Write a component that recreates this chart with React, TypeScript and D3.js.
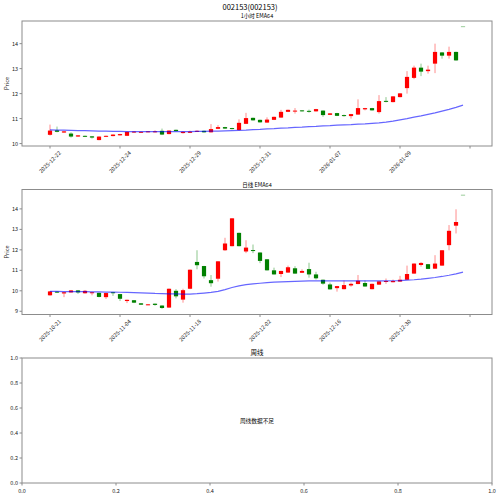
import React from 'react';
import * as d3 from 'd3';

const figureTitle = '002153(002153)';
const hourlyTitle = '1小时 EMA64';
const dailyTitle = '日线 EMA64';
const weeklyTitle = '周线';
const weeklyMessage = '周线数据不足';

// 1 hour candles
const hourlyDates = ['2025-12-22', '2025-12-24', '2025-12-29', '2025-12-31', '2026-01-07', '2026-01-09', ''];
const hourlyOpen = [10.35, 10.53, 10.44, 10.40, 10.28, 10.31, 10.29, 10.14, 10.27, 10.30, 10.33, 10.31, 10.44, 10.44, 10.46, 10.46, 10.51, 10.38, 10.55, 10.42,
  10.43, 10.47, 10.51, 10.45, 10.59, 10.66, 10.62, 10.54, 10.79, 11.03, 10.95, 10.84, 10.95, 11.04, 11.27, 11.28, 11.33, 11.31, 11.29, 11.32,
  11.15, 11.22, 11.14, 11.10, 11.16, 11.37, 11.42, 11.26, 11.71, 11.66, 11.86, 12.22, 12.63, 13.04, 12.90, 13.20, 13.65, 13.52, 13.67, 14.68];
const hourlyClose = [10.52, 10.47, 10.49, 10.28, 10.33, 10.27, 10.24, 10.28, 10.31, 10.36, 10.38, 10.47, 10.48, 10.47, 10.49, 10.49, 10.36, 10.52, 10.50, 10.47,
  10.48, 10.51, 10.45, 10.58, 10.66, 10.60, 10.58, 10.83, 11.02, 10.93, 10.85, 10.96, 11.07, 11.27, 11.35, 11.32, 11.29, 11.29, 11.38, 11.14,
  11.21, 11.11, 11.11, 11.18, 11.42, 11.42, 11.33, 11.70, 11.67, 11.89, 12.01, 12.67, 13.04, 12.88, 12.96, 13.67, 13.52, 13.67, 13.33, 14.68];
const hourlyHigh = [10.76, 10.68, 10.50, 10.45, 10.34, 10.32, 10.30, 10.29, 10.32, 10.37, 10.39, 10.48, 10.49, 10.48, 10.50, 10.53, 10.60, 10.53, 10.56, 10.49,
  10.52, 10.53, 10.52, 10.78, 10.74, 10.67, 10.63, 10.97, 11.23, 11.04, 10.96, 11.05, 11.08, 11.35, 11.36, 11.42, 11.34, 11.36, 11.39, 11.33,
  11.22, 11.23, 11.16, 11.19, 11.77, 11.43, 11.43, 11.94, 11.86, 11.90, 12.02, 12.90, 13.12, 13.20, 13.12, 14.00, 13.66, 13.88, 13.68, 14.68];
const hourlyLow = [10.32, 10.45, 10.43, 10.24, 10.27, 10.26, 10.20, 10.13, 10.26, 10.29, 10.32, 10.30, 10.43, 10.43, 10.45, 10.44, 10.34, 10.37, 10.49, 10.40,
  10.42, 10.46, 10.44, 10.44, 10.58, 10.59, 10.57, 10.52, 10.78, 10.92, 10.84, 10.83, 10.94, 11.03, 11.26, 11.20, 11.28, 11.24, 11.28, 11.07,
  11.14, 11.10, 11.08, 11.00, 11.15, 11.33, 11.32, 11.20, 11.65, 11.65, 11.85, 12.00, 12.58, 12.70, 12.80, 12.82, 13.40, 13.40, 13.32, 14.68];
const hourlyEma = [10.55, 10.54, 10.54, 10.53, 10.52, 10.52, 10.51, 10.50, 10.50, 10.49, 10.49, 10.48, 10.48, 10.48, 10.48, 10.48, 10.48, 10.48, 10.48, 10.48,
  10.48, 10.49, 10.49, 10.50, 10.50, 10.51, 10.52, 10.53, 10.54, 10.56, 10.57, 10.59, 10.60, 10.62, 10.63, 10.65, 10.66, 10.68, 10.69, 10.71,
  10.72, 10.74, 10.75, 10.76, 10.78, 10.79, 10.81, 10.83, 10.86, 10.90, 10.95, 11.00, 11.06, 11.11, 11.17, 11.23, 11.30, 11.37, 11.45, 11.54];
const hourlyTicks = [10, 11, 12, 13, 14];

// daily candles
const dailyDates = ['2025-10-21', '2025-11-04', '2025-11-18', '2025-12-02', '2025-12-16', '2025-12-30', ''];
const dailyOpen = [9.78, 9.96, 9.87, 9.92, 10.02, 9.88, 9.88, 9.90, 9.69, 9.93, 9.84, 9.50, 9.54, 9.39, 9.31, 9.37, 9.28, 9.18, 10.00, 9.57,
  10.10, 11.41, 11.21, 10.52, 10.59, 11.98, 12.18, 12.83, 11.92, 11.99, 11.87, 11.54, 11.00, 10.82, 10.89, 11.10, 10.88, 11.06, 10.80, 10.54,
  10.31, 10.13, 10.08, 10.26, 10.33, 10.38, 10.08, 10.30, 10.44, 10.42, 10.45, 10.54, 10.84, 11.26, 11.30, 11.08, 11.23, 12.23, 13.18, 14.67];
const dailyClose = [9.97, 9.91, 9.93, 10.02, 9.92, 10.00, 9.93, 9.70, 9.89, 9.92, 9.61, 9.56, 9.42, 9.32, 9.34, 9.31, 9.16, 10.10, 9.73, 10.03,
  11.03, 11.25, 10.71, 10.37, 11.44, 12.31, 13.54, 12.18, 12.11, 11.97, 11.46, 11.00, 10.80, 10.97, 11.15, 10.84, 10.97, 10.80, 10.61, 10.35,
  10.07, 10.23, 10.28, 10.34, 10.49, 10.21, 10.34, 10.46, 10.48, 10.48, 10.54, 10.82, 11.33, 11.36, 11.07, 11.33, 11.98, 12.93, 13.36, 14.67];
const dailyHigh = [9.99, 9.98, 9.95, 10.04, 10.04, 10.04, 9.95, 9.91, 9.90, 9.94, 9.85, 9.57, 9.55, 9.40, 9.35, 9.38, 9.29, 10.11, 10.08, 10.10,
  11.04, 11.98, 11.22, 10.77, 11.45, 12.59, 13.55, 12.84, 12.47, 12.26, 11.88, 11.55, 11.13, 10.98, 11.23, 11.20, 11.05, 11.37, 10.93, 10.55,
  10.40, 10.24, 10.50, 10.40, 10.77, 10.50, 10.35, 10.47, 10.60, 10.55, 10.73, 11.23, 11.34, 11.40, 11.31, 11.74, 11.99, 13.21, 13.98, 14.67];
const dailyLow = [9.76, 9.89, 9.69, 9.91, 9.85, 9.86, 9.78, 9.68, 9.60, 9.75, 9.50, 9.40, 9.40, 9.31, 9.30, 9.27, 9.12, 9.17, 9.63, 9.42,
  10.08, 11.05, 10.60, 10.20, 10.45, 11.95, 12.17, 12.17, 11.84, 11.84, 11.35, 10.99, 10.79, 10.67, 10.88, 10.83, 10.87, 10.64, 10.55, 10.30,
  10.06, 9.96, 10.07, 10.20, 10.32, 10.20, 10.07, 10.29, 10.34, 10.41, 10.44, 10.53, 10.83, 11.18, 11.06, 11.07, 11.22, 11.98, 12.80, 14.67];
const dailyEma = [9.97, 9.97, 9.96, 9.96, 9.96, 9.96, 9.95, 9.95, 9.94, 9.94, 9.93, 9.92, 9.91, 9.90, 9.89, 9.87, 9.86, 9.85, 9.85, 9.84,
  9.84, 9.86, 9.89, 9.92, 9.97, 10.06, 10.16, 10.24, 10.30, 10.34, 10.37, 10.40, 10.42, 10.44, 10.45, 10.46, 10.47, 10.48, 10.48, 10.48,
  10.48, 10.48, 10.48, 10.48, 10.48, 10.48, 10.48, 10.48, 10.48, 10.49, 10.50, 10.52, 10.54, 10.57, 10.61, 10.65, 10.70, 10.76, 10.83, 10.91];
const dailyTicks = [9, 10, 11, 12, 13, 14];

const weeklyTicks = [0, 0.2, 0.4, 0.6, 0.8, 1.0];

const FONT = '"Noto Sans CJK SC", "DejaVu Sans", sans-serif';
const LEFT = 22;
const RIGHT = 492;
const PANEL_H = 125;
const UP = '#ff0000';
const DOWN = '#008000';
const FRAME = '#8c8c8c';
const TEXT = '#222222';

type PanelProps = {
  top: number;
  title: string;
  open: number[];
  close: number[];
  high: number[];
  low: number[];
  ema: number[];
  dates: string[];
  yTicks: number[];
};

function CandlePanel({ top, title, open, close, high, low, ema, dates, yTicks }: PanelProps) {
  const bottom = top + PANEL_H;
  const x = d3.scaleLinear().domain([-4, 63.14]).range([LEFT, RIGHT]);
  const lo = d3.min(low) as number;
  const hi = d3.max(high) as number;
  const pad = (hi - lo) * 0.05;
  const y = d3.scaleLinear().domain([lo - pad, hi + pad]).range([bottom, top]);
  const bw = x(0.6) - x(0);
  const emaLine = d3.line<number>().x((d, i) => x(i)).y(d => y(d));
  const xTicks = dates.map((_, i) => i * 10);

  return (
    <g>
      <text x={(LEFT + RIGHT) / 2} y={top - 3} textAnchor="middle" fontSize={5.5} fill="#000">{title}</text>
      {open.map((o, i) => {
        const c = close[i];
        const up = c > o;
        const col = up ? UP : DOWN;
        const flat = Math.abs(c - o) < 1e-9;
        if (flat && high[i] === low[i]) {
          // zero-range candle: only a faint edge line shows
          return (
            <line key={i} x1={x(i) - bw / 2} x2={x(i) + bw / 2} y1={y(o)} y2={y(o)}
              stroke={col} strokeOpacity={0.4} strokeWidth={1} />
          );
        }
        const yt = y(Math.max(o, c));
        const h = Math.max(y(Math.min(o, c)) - yt, 1);
        return (
          <g key={i}>
            <line x1={x(i)} x2={x(i)} y1={y(high[i])} y2={y(low[i])} stroke={col} strokeOpacity={0.45} strokeWidth={1} />
            <rect x={x(i) - bw / 2} y={yt} width={bw} height={h} fill={col} />
          </g>
        );
      })}
      <path d={emaLine(ema) || ''} fill="none" stroke="#0000ff" strokeOpacity={0.6} strokeWidth={1.2} />
      <rect x={LEFT} y={top} width={RIGHT - LEFT} height={PANEL_H} fill="none" stroke={FRAME} strokeWidth={1} />
      {yTicks.map(t => (
        <g key={t}>
          <line x1={LEFT - 2.5} x2={LEFT} y1={y(t)} y2={y(t)} stroke={FRAME} />
          <text x={LEFT - 4} y={y(t)} textAnchor="end" dominantBaseline="central" fontSize={5.5} fill={TEXT}>{t}</text>
        </g>
      ))}
      {xTicks.map((t, i) => (
        <g key={t}>
          <line x1={x(t)} x2={x(t)} y1={bottom} y2={bottom + 2.5} stroke={FRAME} />
          {dates[i] && (
            <text transform={`translate(${x(t)},${bottom + 16}) rotate(-45)`} textAnchor="middle"
              dominantBaseline="central" fontSize={5.5} fill={TEXT}>{dates[i]}</text>
          )}
        </g>
      ))}
      <text transform={`translate(7,${(top + bottom) / 2}) rotate(-90)`} textAnchor="middle"
        dominantBaseline="central" fontSize={5.5} fill={TEXT}>Price</text>
    </g>
  );
}

function EmptyPanel({ top }: { top: number }) {
  const bottom = top + PANEL_H;
  const x = d3.scaleLinear().domain([0, 1]).range([LEFT, RIGHT]);
  const y = d3.scaleLinear().domain([0, 1]).range([bottom, top]);
  return (
    <g>
      <text x={(LEFT + RIGHT) / 2} y={top - 3} textAnchor="middle" fontSize={6.5} fill="#000">{weeklyTitle}</text>
      <text x={x(0.5)} y={y(0.5)} textAnchor="middle" dominantBaseline="central" fontSize={5.7} fill="#000">{weeklyMessage}</text>
      <rect x={LEFT} y={top} width={RIGHT - LEFT} height={PANEL_H} fill="none" stroke={FRAME} strokeWidth={1} />
      {weeklyTicks.map(t => (
        <g key={'y' + t}>
          <line x1={LEFT - 2.5} x2={LEFT} y1={y(t)} y2={y(t)} stroke={FRAME} />
          <text x={LEFT - 4} y={y(t)} textAnchor="end" dominantBaseline="central" fontSize={5.5} fill={TEXT}>{t.toFixed(1)}</text>
        </g>
      ))}
      {weeklyTicks.map(t => (
        <g key={'x' + t}>
          <line x1={x(t)} x2={x(t)} y1={bottom} y2={bottom + 2.5} stroke={FRAME} />
          <text x={x(t)} y={bottom + 7.5} textAnchor="middle" dominantBaseline="central" fontSize={5.5} fill={TEXT}>{t.toFixed(1)}</text>
        </g>
      ))}
    </g>
  );
}

export default function App() {
  return (
    <svg width={500} height={496} style={{ position: 'absolute', left: 0, top: 0, background: '#fff' }} fontFamily={FONT}>
      <rect width={500} height={496} fill="#fff" />
      <text x={250} y={10} textAnchor="middle" fontSize={7.5} fill="#000">{figureTitle}</text>
      <CandlePanel top={21} title={hourlyTitle} open={hourlyOpen} close={hourlyClose} high={hourlyHigh}
        low={hourlyLow} ema={hourlyEma} dates={hourlyDates} yTicks={hourlyTicks} />
      <CandlePanel top={189.5} title={dailyTitle} open={dailyOpen} close={dailyClose} high={dailyHigh}
        low={dailyLow} ema={dailyEma} dates={dailyDates} yTicks={dailyTicks} />
      <EmptyPanel top={358} />
    </svg>
  );
}
